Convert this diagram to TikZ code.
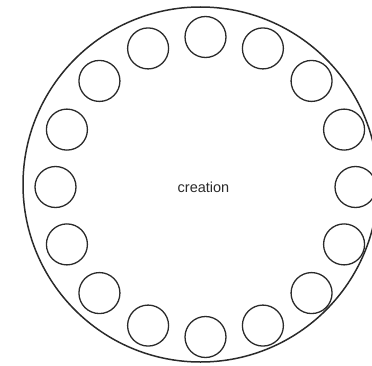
\documentclass[tikz,border=0pt]{standalone}
\usepackage{fontspec}
\setmainfont{Liberation Sans}
\usepackage{tikz}
\usetikzlibrary{positioning,calc}
\usepackage{xcolor}
\definecolor{inkgrey}{HTML}{2A2A2A}

\begin{document}
\begin{tikzpicture}[x=1pt,y=1pt,
  seat/.style={draw=inkgrey,circle,line width=1.3pt,minimum size=41pt,inner sep=0pt},
  table/.style={draw=inkgrey,circle,line width=1.5pt,minimum size=355pt,inner sep=0pt}]
\useasboundingbox (0,0) rectangle (372,365);
\node[table] (hall) at (200.5,180.5) {};
\coordinate (ring) at (205.5,178);
\foreach \i in {0,...,15}{
\node[seat] (seat\i) at ($(ring)+(90-22.5*\i:150)$) {};}
\node[font=\fontsize{14.5}{16}\selectfont,text=inkgrey] (label) at (203.5,178) {creation};
\end{tikzpicture}
\end{document}
